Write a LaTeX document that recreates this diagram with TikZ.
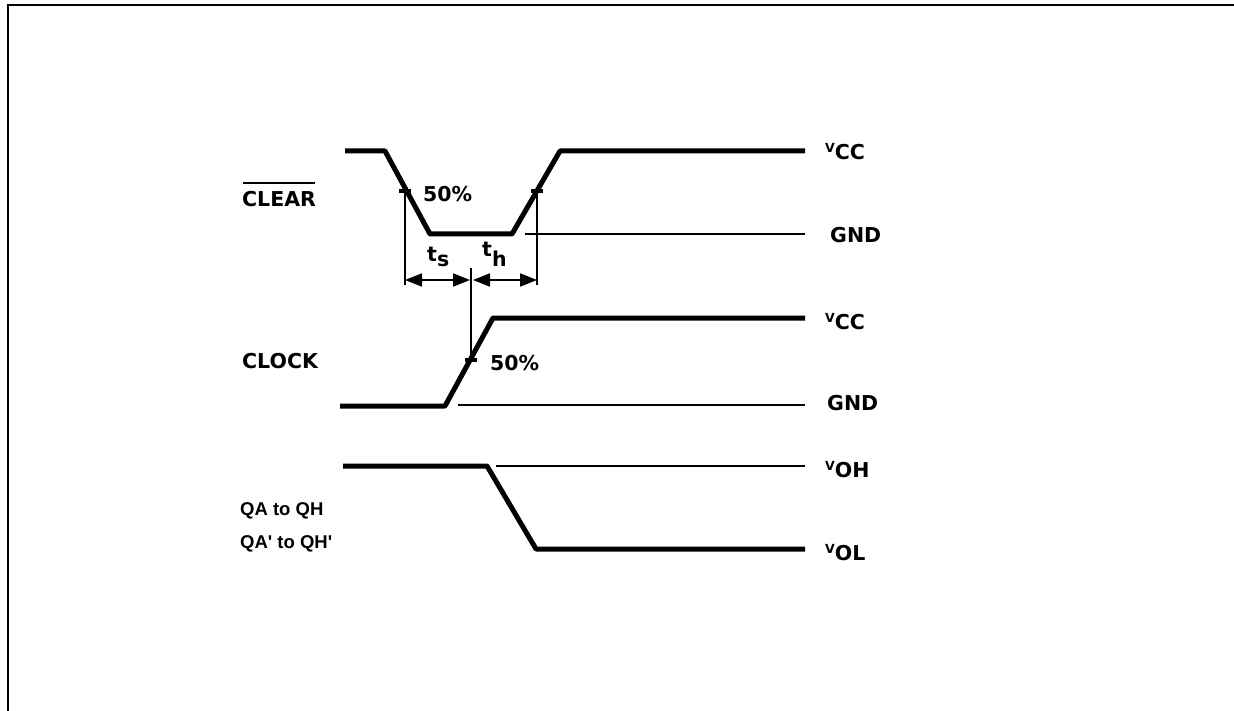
\documentclass[tikz,border=0pt]{standalone}
\usepackage{fontspec}
\setmainfont{DejaVu Sans}
\newfontfamily\qafont{Liberation Sans}
\usetikzlibrary{arrows.meta}
\tikzset{
  wave/.style={line width=5pt, line join=round},
  thin/.style={line width=1.8pt},
  tick/.style={line width=3.5pt},
  dim/.style={line width=2pt, {Triangle[length=17pt,width=13pt]}-{Triangle[length=17pt,width=13pt]}},
  lbl/.style={font=\bfseries\fontsize{20.5}{20.5}\selectfont, inner sep=0pt, anchor=base west},
  qalbl/.style={font=\qafont\bfseries\fontsize{18.5}{18.5}\selectfont, inner sep=0pt, anchor=base west},
  frame/.style={line width=2pt}
}
\newcommand{\vsub}[1]{\raisebox{7pt}{\fontsize{12.5}{12.5}\selectfont V}#1}
\begin{document}
\begin{tikzpicture}[x=1pt,y=-1pt]
\useasboundingbox (0,0) rectangle (1234,711);
% frame
\coordinate (fbl) at (8,711);
\coordinate (ftl) at (8,5);
\coordinate (ftr) at (1234,5);
\draw[frame] (fbl) -- (ftl) -- (ftr);

% CLEAR waveform
\coordinate (c0) at (345,151);
\coordinate (c1) at (385,151);
\coordinate (c2) at (430,234);
\coordinate (c3) at (512,234);
\coordinate (c4) at (560,151);
\coordinate (c5) at (805,151);
\draw[wave] (c0) -- (c1) -- (c2) -- (c3) -- (c4) -- (c5);
\coordinate (cg0) at (525,234);
\coordinate (cg1) at (805,234);
\draw[thin] (cg0) -- (cg1);
% 50% marks on CLEAR
\coordinate (m1) at (405,191);
\coordinate (m2) at (537,191);
\draw[tick] ([xshift=-6pt]m1) -- ([xshift=6pt]m1);
\draw[tick] ([xshift=-6pt]m2) -- ([xshift=6pt]m2);
% extension lines
\coordinate (e1) at (405,285);
\coordinate (e2) at (537,285);
\draw[thin] (m1) -- (e1);
\draw[thin] (m2) -- (e2);

% CLOCK waveform
\coordinate (k0) at (340,406);
\coordinate (k1) at (445,406);
\coordinate (k2) at (493,318);
\coordinate (k3) at (805,318);
\draw[wave] (k0) -- (k1) -- (k2) -- (k3);
\coordinate (kg0) at (458,405);
\coordinate (kg1) at (805,405);
\draw[thin] (kg0) -- (kg1);
\coordinate (m3) at (471,360);
\draw[tick] ([xshift=-6pt]m3) -- ([xshift=6pt]m3);
\coordinate (ctop) at (471,268);
\draw[thin] (ctop) -- (m3);

% dimension arrows
\coordinate (a1) at (405,280);
\coordinate (a2) at (470,280);
\coordinate (a3) at (473,280);
\coordinate (a4) at (537,280);
\draw[dim] (a1) -- (a2);
\draw[dim] (a3) -- (a4);

% QA waveform
\coordinate (q0) at (343,466);
\coordinate (q1) at (487,466);
\coordinate (q2) at (536,549);
\coordinate (q3) at (805,549);
\draw[wave] (q0) -- (q1) -- (q2) -- (q3);
\coordinate (qh0) at (496,466);
\coordinate (qh1) at (805,466);
\draw[thin] (qh0) -- (qh1);

% labels
\node[lbl] (clear) at (242,207) {CLEAR};
\coordinate (ov0) at (243,183);
\coordinate (ov1) at (315,183);
\draw[line width=1.2pt] (ov0) -- (ov1);
\node[lbl] (clock) at (242,368) {CLOCK};
\node[qalbl] (qa1) at (240,515) {QA to QH};
\node[qalbl] (qa2) at (240,548) {QA' to QH'};

\node[lbl] (p1) at (423,202) {50\%};
\node[lbl] (p2) at (490,370) {50\%};
\node[lbl] (ts) at (427,262) {t\raisebox{-5pt}{s}};
\node[lbl] (th) at (482,257) {t\raisebox{-10pt}{h}};

\node[lbl] (vcc1) at (825,160) {\vsub{CC}};
\node[lbl] (gnd1) at (830,243) {GND};
\node[lbl] (vcc2) at (825,330) {\vsub{CC}};
\node[lbl] (gnd2) at (827,410) {GND};
\node[lbl] (voh) at (825,477) {\vsub{OH}};
\node[lbl] (vol) at (825,560) {\vsub{OL}};
\end{tikzpicture}
\end{document}
